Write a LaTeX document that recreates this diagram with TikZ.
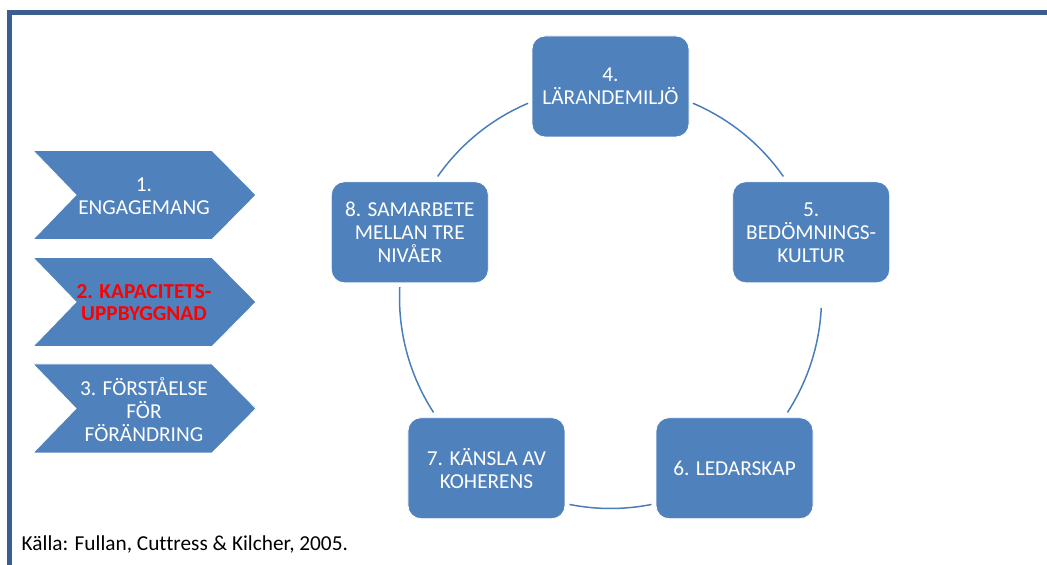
\documentclass[tikz,border=0pt]{standalone}
\usepackage{fontspec}
\setmainfont{Carlito}[Ligatures=NoCommon]
\usetikzlibrary{calc}
\definecolor{boxblue}{HTML}{4F81BD}
\definecolor{frameblue}{HTML}{3A5F8E}
\definecolor{ringblue}{HTML}{4A7EBB}
\begin{document}
\begin{tikzpicture}[x=1pt,y=1pt,
  cycbox/.style={rectangle, rounded corners=13pt, fill=boxblue, draw=white, line width=0.8pt,
    minimum width=157pt, minimum height=101pt, text=white, align=center,
    font=\fontsize{21.3}{23}\selectfont, inner sep=0pt},
  chevtext/.style={text=white, align=center, font=\fontsize{21.3}{23}\selectfont, inner sep=0pt},
  chevshape/.style={fill=boxblue, draw=white, line width=0.8pt},
  ring/.style={draw=ringblue, line width=1.5pt},
  frameline/.style={draw=frameblue, line width=5pt, line join=miter}]
\useasboundingbox (0,0) rectangle (1047,565);
\fill[white] (0,0) rectangle (1047,565);
% frame
\coordinate (fb) at (9.5,0);
\coordinate (fc) at (9.5,552);
\coordinate (fr) at (1047,552);
\draw[frameline] (fb) -- (fc) -- (fr);
% chevrons
\foreach \yy/\nm in {370/c1, 263/c2, 156.5/c3}{
  \fill[chevshape] (33,\yy+44.5) -- (212,\yy+44.5) -- (256,\yy) -- (212,\yy-44.5) -- (33,\yy-44.5) -- (76,\yy) -- cycle;
}
\node[chevtext] (t1) at (144,369) {1.\\ENGAGEMANG};
\node[chevtext, text=red, font=\fontsize{21.3}{22}\selectfont\bfseries] (t2) at (144,262.5) {2. KAPACITETS-\\UPPBYGGNAD};
\node[chevtext] (t3) at (144,155.5) {3. FÖRSTÅELSE\\FÖR\\FÖRÄNDRING};
% cycle
\coordinate (c) at (610.5,267.5);
\node[cycbox] (n4) at ($(c)+(90:211)$) {4.\\LÄRANDEMILJÖ};
\node[cycbox] (n5) at ($(c)+(18:211)$) {5.\\BEDÖMNINGS-\\KULTUR};
\node[cycbox] (n6) at ($(c)+(-54:211)$) {6. LEDARSKAP};
\node[cycbox] (n7) at ($(c)+(234:211)$) {7. KÄNSLA AV\\KOHERENS};
\node[cycbox] (n8) at ($(c)+(162:211)$) {8. SAMARBETE\\MELLAN TRE\\NIVÅER};
% ring arcs
\coordinate (a45) at ($(c)+(35:211)$);
\coordinate (a48) at ($(c)+(113:211)$);
\coordinate (a87) at ($(c)+(177.2:211)$);
\coordinate (a76) at ($(c)+(258.8:211)$);
\coordinate (a65) at ($(c)+(327:211)$);
\draw[ring] (a45) arc[start angle=35, end angle=67, radius=211pt];
\draw[ring] (a48) arc[start angle=113, end angle=145, radius=211pt];
\draw[ring] (a87) arc[start angle=177.2, end angle=213, radius=211pt];
\draw[ring] (a76) arc[start angle=258.8, end angle=281.2, radius=211pt];
\draw[ring] (a65) arc[start angle=327, end angle=357.2, radius=211pt];
% source
\node[anchor=base west, inner sep=0pt, font=\fontsize{21.3}{23}\selectfont] (src) at (21.5,14.3) {Källa: Fullan, Cuttress \& Kilcher, 2005.};
\end{tikzpicture}
\end{document}
